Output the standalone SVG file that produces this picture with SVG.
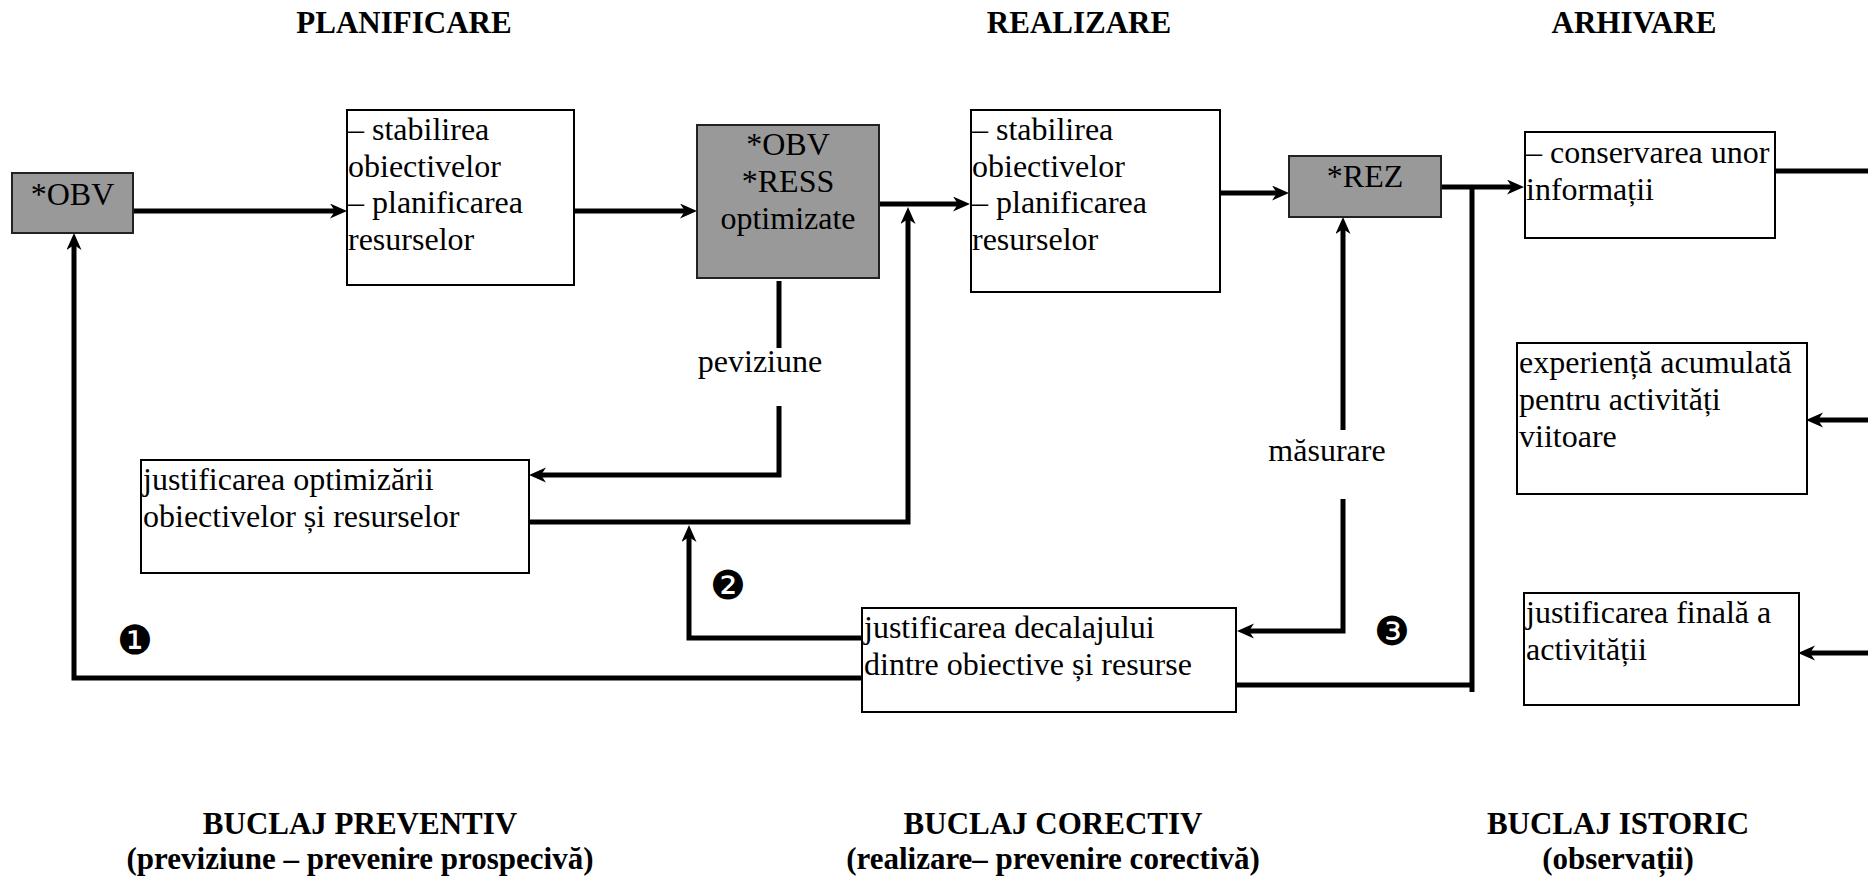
<svg xmlns="http://www.w3.org/2000/svg" width="1868" height="878" viewBox="0 0 1868 878">
  <style>
    .box{fill:#fff;stroke:#000;stroke-width:2}
    .grey{fill:#999;stroke:#222;stroke-width:2}
    .t{font-family:"Liberation Serif","Times New Roman",serif;font-size:32px;fill:#000}
    .m{text-anchor:middle}
    .h{font-family:"Liberation Serif","Times New Roman",serif;font-size:31px;font-weight:bold;text-anchor:middle;fill:#000}
    .c{fill:none;stroke:#000;stroke-width:5}
    .a{marker-end:url(#ah)}
    .num{font-family:"DejaVu Sans",sans-serif;font-size:40px;text-anchor:middle;fill:#000}
  </style>
  <defs>
    <marker id="ah" markerUnits="userSpaceOnUse" markerWidth="18" markerHeight="16" refX="7" refY="7.5" orient="auto">
      <path d="M0,0 L17,7.5 L0,15 L5,7.5 Z" fill="#000"/>
    </marker>
  </defs>

  <!-- column headings -->
  <g id="headings">
    <text class="h" x="404" y="33">PLANIFICARE</text>
    <text class="h" x="1079" y="33">REALIZARE</text>
    <text class="h" x="1634" y="33">ARHIVARE</text>
  </g>

  <!-- connectors -->
  <g id="connectors">
    <path class="c a" d="M133,211 H337"/>
    <path class="c a" d="M574,211 H687"/>
    <path class="c a" d="M879,204 H960"/>
    <path class="c a" d="M1220,193 H1279"/>
    <path class="c a" d="M1441,187 H1514"/>
    <path class="c" d="M1775,171 H1868"/>
    <path class="c a" d="M1868,420 H1816"/>
    <path class="c a" d="M1868,653 H1808"/>
    <path class="c" d="M779,281 V348"/>
    <path class="c a" d="M779,406 V475 H539"/>
    <path class="c a" d="M529,522 H908 V217"/>
    <path class="c a" d="M862,638 H689 V535"/>
    <path class="c a" d="M862,678 H74 V243"/>
    <path class="c a" d="M1343,430 V227"/>
    <path class="c a" d="M1343,499 V631 H1247"/>
    <path class="c" d="M1236,685 H1472"/>
    <path class="c" d="M1472,185 V692"/>
  </g>

  <!-- planning -->
  <g id="obv">
    <rect class="grey" x="12" y="173" width="121" height="60"/>
    <text class="t m" x="72.5" y="205">*OBV</text>
  </g>
  <g id="planificare">
    <rect class="box" x="347" y="110" width="227" height="175"/>
    <text class="t" x="348" y="140">– stabilirea<tspan x="348" y="177">obiectivelor</tspan><tspan x="348" y="213">– planificarea</tspan><tspan x="348" y="250">resurselor</tspan></text>
  </g>
  <g id="optimizate">
    <rect class="grey" x="697" y="125" width="182" height="153"/>
    <text class="t m" x="788" y="155">*OBV<tspan x="788" y="192">*RESS</tspan><tspan x="788" y="229">optimizate</tspan></text>
  </g>
  <g id="realizare">
    <rect class="box" x="971" y="110" width="249" height="182"/>
    <text class="t" x="972" y="140">– stabilirea<tspan x="972" y="177">obiectivelor</tspan><tspan x="972" y="213">– planificarea</tspan><tspan x="972" y="250">resurselor</tspan></text>
  </g>
  <g id="rez">
    <rect class="grey" x="1289" y="156" width="152" height="61"/>
    <text class="t m" x="1365" y="187">*REZ</text>
  </g>

  <!-- archiving -->
  <g id="conservare">
    <rect class="box" x="1525" y="132" width="250" height="106"/>
    <text class="t" x="1526" y="163">– conservarea unor<tspan x="1526" y="200">informații</tspan></text>
  </g>
  <g id="experienta">
    <rect class="box" x="1517" y="343" width="290" height="151"/>
    <text class="t" x="1519" y="373">experiență acumulată<tspan x="1519" y="410">pentru activități</tspan><tspan x="1519" y="447">viitoare</tspan></text>
  </g>
  <g id="justificare-finala">
    <rect class="box" x="1524" y="593" width="275" height="112"/>
    <text class="t" x="1526" y="623">justificarea finală a<tspan x="1526" y="660">activității</tspan></text>
  </g>

  <!-- feedback boxes -->
  <g id="justificare-optimizare">
    <rect class="box" x="141" y="460" width="388" height="113"/>
    <text class="t" x="143" y="490">justificarea optimizării<tspan x="143" y="527">obiectivelor și resurselor</tspan></text>
  </g>
  <g id="justificare-decalaj">
    <rect class="box" x="862" y="608" width="374" height="104"/>
    <text class="t" x="864" y="638">justificarea decalajului<tspan x="864" y="675">dintre obiective și resurse</tspan></text>
  </g>

  <!-- connector labels -->
  <g id="labels">
    <text class="t m" x="760" y="372">peviziune</text>
    <text class="t m" x="1327" y="461">măsurare</text>
    <text class="num" x="135" y="654">❶</text>
    <text class="num" x="728" y="599">❷</text>
    <text class="num" x="1392" y="645">❸</text>
  </g>

  <!-- loop captions -->
  <g id="captions">
    <text class="h" x="360" y="834">BUCLAJ PREVENTIV</text>
    <text class="h" x="360" y="869">(previziune – prevenire prospecivă)</text>
    <text class="h" x="1053" y="834">BUCLAJ CORECTIV</text>
    <text class="h" x="1053" y="869">(realizare– prevenire corectivă)</text>
    <text class="h" x="1618" y="834">BUCLAJ ISTORIC</text>
    <text class="h" x="1618" y="869">(observații)</text>
  </g>
</svg>
